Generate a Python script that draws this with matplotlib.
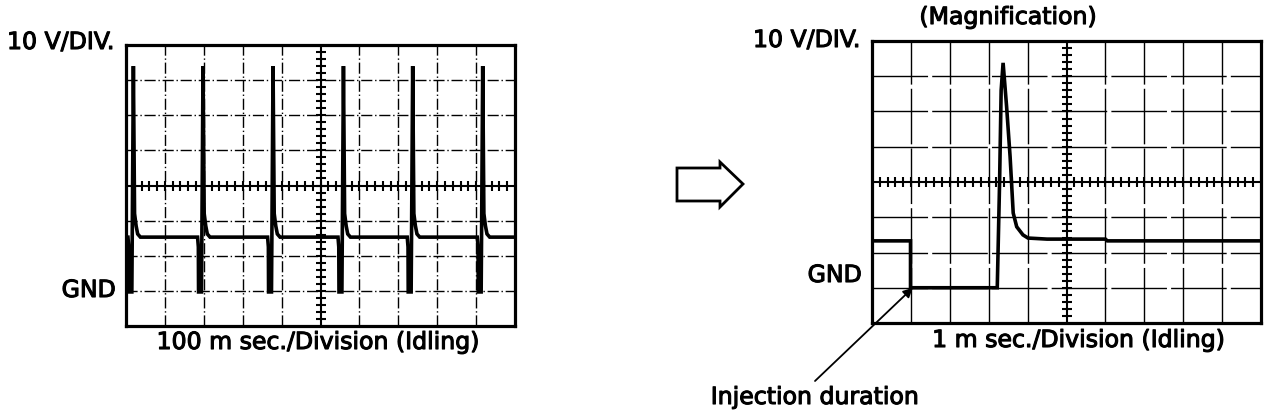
import numpy as np
import matplotlib
matplotlib.use("Agg")
import matplotlib.pyplot as plt
import matplotlib.patheffects as pe
from matplotlib.patches import Polygon

plt.rcParams['font.family'] = ['DejaVu Sans']

# left trace: 100 ms/div, 10 V/div, volts measured from GND
left_spike_ms = [19, 198, 378, 559, 737, 917]
left_peak_v = [64, 64, 64, 64, 64, 64]
left_base_v = 15.3
# shape of one injector pulse around its spike (ms offset, volts)
pulse_dt = [-14, -12, -11.5, -4, -3, 0, 3, 7, 11, 18]
pulse_v = [15.3, 12.5, -0.3, -0.3, 15.0, None, 22.0, 18.5, 16.2, 15.3]

# right trace: 1 ms/div, magnified single pulse
right_ms = [0, 0.99, 0.99, 3.22, 3.28, 3.32, 3.37, 3.46, 3.55, 3.63, 3.72,
            3.88, 4.01, 4.5, 6.0, 6.05, 10]
right_v = [13.3, 13.3, 0, 0, 30, 56, 63.8, 51.4, 37.2, 21.2, 17.3,
           15.0, 14.1, 13.8, 13.8, 13.3, 13.3]

W, H = 1280, 416
fig = plt.figure(figsize=(W / 100, H / 100), dpi=100)
FS = 17
heavy = [pe.withStroke(linewidth=0.8, foreground='k')]


def px(x, y):
    return x / W, 1 - y / H


def scope(ax, xmax, gnd_div, grid_ls):
    xdiv = xmax / 10
    ax.set_xlim(0, xmax)
    ax.set_ylim(-gnd_div * 10, (8 - gnd_div) * 10)
    xs = np.arange(1, 10) * xdiv
    ys = np.arange(1, 8) * 10 - gnd_div * 10
    cx, cy = 5 * xdiv, 40 - gnd_div * 10
    for x in xs:
        if x != cx:
            ax.axvline(x, color='k', lw=1.0, ls=grid_ls, zorder=1)
    for y in ys:
        if y != cy:
            ax.axhline(y, color='k', lw=1.0, ls=grid_ls, zorder=1)
    ax.axvline(cx, color='k', lw=1.5, zorder=1)
    ax.axhline(cy, color='k', lw=1.5, zorder=1)
    tx = np.arange(0.2, 10, 0.2) * xdiv
    ty = np.arange(0.2, 8, 0.2) * 10 - gnd_div * 10
    ax.plot(tx, [cy] * len(tx), ls='none', marker='|', ms=7, mew=1.5, color='k', zorder=1)
    ax.plot([cx] * len(ty), ty, ls='none', marker='_', ms=7, mew=1.5, color='k', zorder=1)
    ax.set_xticks([])
    ax.set_yticks([])
    for s in ax.spines.values():
        s.set_linewidth(2.3)


# left panel
ax1 = fig.add_axes([126 / W, 1 - 326 / H, 389 / W, 281 / H])
scope(ax1, 1000, 1, (0, (8, 2, 1, 2)))
lt, lv = [0], [left_base_v]
for t0, pk in zip(left_spike_ms, left_peak_v):
    for dt, v in zip(pulse_dt, pulse_v):
        lt.append(t0 + dt)
        lv.append(pk if v is None else v)
lt.append(1000)
lv.append(left_base_v)
ax1.plot(lt, lv, color='k', lw=2.6, zorder=3, solid_joinstyle='miter')

# right panel
ax2 = fig.add_axes([872 / W, 1 - 323 / H, 389 / W, 282 / H])
scope(ax2, 10, 1, (0, (40, 3)))
ax2.plot(right_ms, right_v, color='k', lw=2.6, zorder=3, solid_joinstyle='miter')

# labels
labels = [
    (7, 42, '10 V/DIV.', 'left'),
    (753, 40, '10 V/DIV.', 'left'),
    (116, 290, 'GND', 'right'),
    (862, 275, 'GND', 'right'),
    (318, 342, '100 m sec./Division (Idling)', 'center'),
    (1225, 340, '1 m sec./Division (Idling)', 'right'),
    (1008, 17, '(Magnification)', 'center'),
    (815, 397, 'Injection duration', 'center'),
]
for x, y, s, ha in labels:
    fig.text(*px(x, y), s, fontsize=FS, ha=ha, va='center', path_effects=heavy)

ax2.annotate('', xy=(1.05, 0), xycoords='data',
             xytext=(815, H - 381), textcoords='figure pixels',
             arrowprops=dict(arrowstyle='-|>', color='k', lw=1.3,
                             mutation_scale=14, shrinkA=0, shrinkB=0))

# block arrow between panels
arrow_px = [(677, 168), (720, 168), (720, 162), (743, 184),
            (720, 207), (720, 201), (677, 201)]
fig.add_artist(Polygon([px(x, y) for x, y in arrow_px], closed=True,
                       transform=fig.transFigure, fill=False,
                       edgecolor='k', lw=2.0))

fig.savefig('out.png', dpi=100)
